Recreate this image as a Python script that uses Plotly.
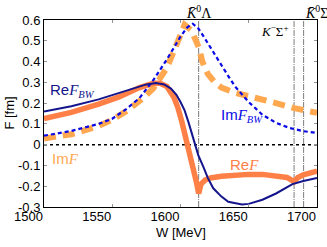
import plotly.graph_objects as go

# ---- data ----
w_re_bw = [1500, 1520, 1540, 1560, 1575, 1582, 1588, 1593, 1597, 1600, 1603, 1606, 1609, 1613, 1617, 1620,
           1624, 1630, 1635, 1645, 1650, 1660, 1670, 1682, 1690, 1700]
re_bw = [0.16, 0.185, 0.218, 0.26, 0.29, 0.297, 0.29, 0.27, 0.24, 0.205, 0.165, 0.105, 0.04, -0.05, -0.11, -0.16,
         -0.21, -0.25, -0.275, -0.288, -0.285, -0.265, -0.235, -0.19, -0.175, -0.16]

w_im_bw = [1500, 1520, 1540, 1550, 1560, 1570, 1580, 1590, 1600, 1605, 1609, 1613, 1617, 1620, 1626, 1635,
           1640, 1650, 1660, 1670, 1680, 1690, 1700]
im_bw = [0.043, 0.066, 0.10, 0.125, 0.17, 0.225, 0.31, 0.41, 0.52, 0.565, 0.582, 0.56, 0.52, 0.49, 0.425, 0.33,
         0.28, 0.205, 0.144, 0.105, 0.08, 0.065, 0.056]

w_re_f = [1500, 1520, 1540, 1555, 1570, 1580, 1585, 1590, 1595, 1598, 1601, 1604, 1607, 1610, 1612, 1613.3,
          1615, 1618, 1622, 1630, 1640, 1650, 1660, 1670, 1678, 1683.2, 1686, 1690, 1700]
re_f = [0.125, 0.155, 0.195, 0.23, 0.275, 0.295, 0.295, 0.28, 0.23, 0.18, 0.11, 0.035, -0.05, -0.13, -0.19, -0.235,
        -0.19, -0.17, -0.16, -0.152, -0.146, -0.143, -0.143, -0.148, -0.158, -0.178, -0.158, -0.145, -0.128]

w_im_f = [1500, 1520, 1540, 1550, 1560, 1570, 1580, 1590, 1597, 1603, 1608, 1613.3, 1616, 1620, 1625, 1630,
          1640, 1650, 1660, 1670, 1683.2, 1690, 1700]
im_f = [0.03, 0.05, 0.09, 0.12, 0.16, 0.21, 0.27, 0.37, 0.48, 0.577, 0.55, 0.47, 0.40, 0.34, 0.30, 0.275,
        0.25, 0.235, 0.216, 0.20, 0.176, 0.165, 0.153]

thresholds = [1613.3, 1683.2, 1690.2]
x_ticks = [1500, 1550, 1600, 1650, 1700]
y_ticks = [-0.3, -0.2, -0.1, 0, 0.1, 0.2, 0.3, 0.4, 0.5, 0.6]
y_tick_text = ["-0.3", "-0.2", "-0.1", "0", "0.1", "0.2", "0.3", "0.4", "0.5", "0.6"]

NAVY = "rgb(20,20,140)"
BLUE = "rgb(10,10,230)"
ORANGE = "rgb(255,128,70)"
LORANGE = "rgb(255,168,80)"

fig = go.Figure()
# zero line
fig.add_trace(go.Scatter(x=[1500, 1700], y=[0, 0], mode="lines",
                         line=dict(color="black", width=1.5, dash="dot"), showlegend=False))
for t in thresholds:
    fig.add_trace(go.Scatter(x=[t, t], y=[-0.3, 0.6], mode="lines",
                             line=dict(color="rgb(90,90,90)", width=0.8, dash="6px,1px,1px,1px"),
                             showlegend=False))
fig.add_trace(go.Scatter(x=w_im_f, y=im_f, mode="lines",
                         line=dict(color=LORANGE, width=6, dash="12px,7px"), showlegend=False))
fig.add_trace(go.Scatter(x=w_re_f, y=re_f, mode="lines",
                         line=dict(color=ORANGE, width=5.5), showlegend=False))
fig.add_trace(go.Scatter(x=w_im_bw, y=im_bw, mode="lines",
                         line=dict(color=BLUE, width=2.2, dash="4px,3px"), showlegend=False))
fig.add_trace(go.Scatter(x=w_re_bw, y=re_bw, mode="lines",
                         line=dict(color=NAVY, width=2), showlegend=False))

F = "<span style='font-family:\"Liberation Serif\"'><i>F</i></span>"
BW = "<sub><span style='font-family:\"Liberation Serif\"'><i>BW</i></span></sub>"
ann = [
    dict(x=1521, y=0.262, text="Re" + F + BW, color=NAVY),
    dict(x=1645, y=0.14, text="Im" + F + BW, color=BLUE),
    dict(x=1516, y=-0.067, text="Im" + F, color=LORANGE),
    dict(x=1647, y=-0.096, text="Re" + F, color=ORANGE),
]
SER = "Liberation Serif"
annotations = []
for a in ann:
    annotations.append(dict(x=a["x"], y=a["y"], xref="x", yref="y", text=a["text"], showarrow=False,
                            font=dict(family="Liberation Sans", size=15, color=a["color"])))
annotations.append(dict(x=thresholds[0], y=1.0, xref="x", yref="paper", yanchor="bottom", yshift=-3,
                        text="<i>K\u0304</i><sup>0</sup>\u039b", showarrow=False,
                        font=dict(family=SER, size=14, color="black")))
annotations.append(dict(x=thresholds[2], y=1.0, xref="x", yref="paper", xanchor="left", yanchor="bottom",
                        yshift=-3, xshift=-1,
                        text="<i>K\u0304</i><sup>0</sup>\u03a3<sup>0</sup>", showarrow=False,
                        font=dict(family=SER, size=14, color="black")))
annotations.append(dict(x=thresholds[1], y=0.6, xref="x", yref="y", xanchor="right", yanchor="top", xshift=-3,
                        yshift=-1,
                        text="<i>K</i><sup>\u2212</sup>\u03a3<sup>+</sup>", showarrow=False,
                        font=dict(family=SER, size=13, color="black")))
# axis titles
annotations.append(dict(x=0.5, y=-0.134, xref="paper", yref="paper", text="W [MeV]", showarrow=False,
                        yanchor="middle", font=dict(family="Liberation Sans", size=13, color="black")))
annotations.append(dict(x=-0.128, y=0.5, xref="paper", yref="paper", text="F [fm]", showarrow=False,
                        textangle=-90, xanchor="center",
                        font=dict(family="Liberation Sans", size=13, color="black")))

fig.update_layout(
    width=327, height=247,
    margin=dict(l=44, r=10, t=20, b=40, autoexpand=False),
    paper_bgcolor="white", plot_bgcolor="white",
    font=dict(family="Liberation Sans", size=13, color="black"),
    annotations=annotations,
    xaxis=dict(range=[1500, 1700], tickvals=x_ticks, ticktext=[str(v) for v in x_ticks],
               ticks="inside", ticklen=3, tickcolor="rgb(150,150,150)",
               ticklabelposition="outside left", automargin=False, ticklabelstandoff=-3,
               showline=True, linecolor="black", linewidth=1, mirror="ticks", showgrid=False, zeroline=False,
               tickfont=dict(size=13)),
    yaxis=dict(range=[-0.3, 0.6], tickvals=y_ticks, ticktext=y_tick_text, automargin=False,
               ticks="inside", ticklen=3, tickcolor="rgb(150,150,150)",
               showline=True, linecolor="black", linewidth=1, mirror="ticks", showgrid=False, zeroline=False,
               tickfont=dict(size=13)),
)

fig.write_html("out.html", config={"displayModeBar": False},
               post_script="document.body.style.margin='0';document.body.style.overflow='hidden';")
